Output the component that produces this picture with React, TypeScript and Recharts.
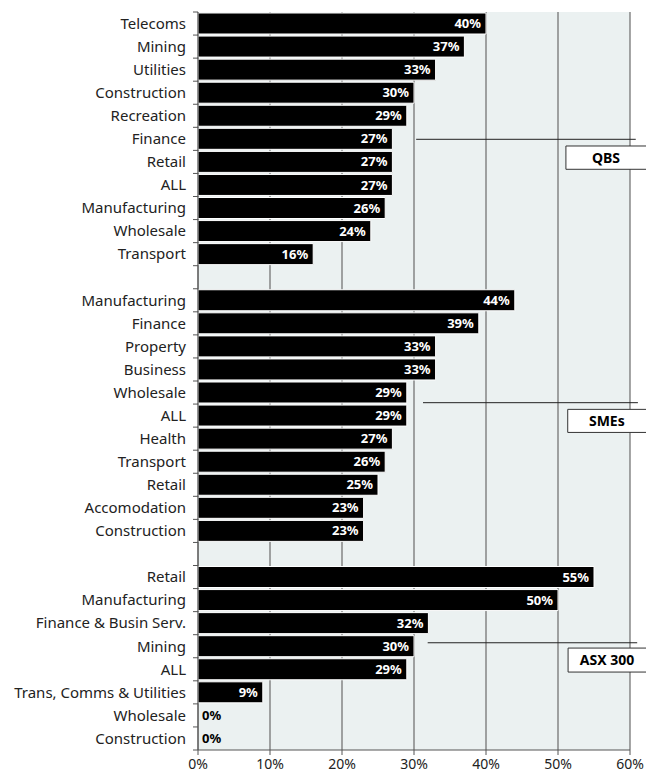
import { Bar, BarChart, CartesianGrid, LabelList, ReferenceArea, ReferenceLine, XAxis, YAxis } from 'recharts'

const qbsCategories = [
  'Telecoms', 'Mining', 'Utilities', 'Construction', 'Recreation', 'Finance',
  'Retail', 'ALL', 'Manufacturing', 'Wholesale', 'Transport',
]
const qbsValues = [40, 37, 33, 30, 29, 27, 27, 27, 26, 24, 16]

const smeCategories = [
  'Manufacturing', 'Finance', 'Property', 'Business', 'Wholesale', 'ALL',
  'Health', 'Transport', 'Retail', 'Accomodation', 'Construction',
]
const smeValues = [44, 39, 33, 33, 29, 29, 27, 26, 25, 23, 23]

const asxCategories = [
  'Retail', 'Manufacturing', 'Finance & Busin Serv.', 'Mining', 'ALL',
  'Trans, Comms & Utilities', 'Wholesale', 'Construction',
]
const asxValues = [55, 50, 32, 30, 29, 9, 0, 0]

const xTicks = [0, 10, 20, 30, 40, 50, 60]

// group tags: rows counted from the top, x in %
const annotations = [
  { label: 'QBS', lineY: 5.52, lineFrom: 30.3, lineTo: 60.8, boxLeft: 51.1, boxTop: 5.81, boxBottom: 6.82 },
  { label: 'SMEs', lineY: 16.94, lineFrom: 31.25, lineTo: 61.1, boxLeft: 51.35, boxTop: 17.23, boxBottom: 18.23 },
  { label: 'ASX 300', lineY: 27.35, lineFrom: 31.9, lineTo: 61, boxLeft: 51.4, boxTop: 27.58, boxBottom: 28.62 },
]

type Row = { id: string; name: string; value: number | null }

const group = (prefix: string, names: string[], values: number[]): Row[] =>
  names.map((name, i) => ({ id: `${prefix}-${i}`, name, value: values[i] }))

const rows: Row[] = [
  ...group('qbs', qbsCategories, qbsValues),
  { id: 'gap-1', name: '', value: null },
  ...group('sme', smeCategories, smeValues),
  { id: 'gap-2', name: '', value: null },
  ...group('asx', asxCategories, asxValues),
]

const FONT = '"Noto Sans", "Open Sans", sans-serif'
const PLOT_TOP = 12
const PLOT_BOTTOM = 750
const AXIS = '#555'

function CategoryTick(props: any) {
  const { x, y, index } = props
  const row = rows[index]
  const band = (PLOT_BOTTOM - PLOT_TOP) / rows.length
  const axisX = x + 12
  return (
    <g>
      <line x1={axisX - 5} x2={axisX} y1={y - band / 2} y2={y - band / 2} stroke={AXIS} />
      {index === rows.length - 1 && (
        <line x1={axisX - 5} x2={axisX} y1={y + band / 2} y2={y + band / 2} stroke={AXIS} />
      )}
      <text x={x} y={y} dy="0.355em" textAnchor="end" fontSize={15} fontFamily={FONT} fill="#222">
        {row ? row.name : ''}
      </text>
      {row && row.value === 0 && (
        <text
          x={axisX + 4}
          y={y}
          dy="0.355em"
          textAnchor="start"
          fill="#000"
          fontSize={13}
          fontWeight={700}
          fontFamily={FONT}
        >
          {row.value}%
        </text>
      )}
    </g>
  )
}

function ValueLabel(props: any) {
  const { x, y, width, height, value } = props
  if (value === null || value === undefined || Number(value) === 0) return null
  return (
    <text
      x={x + width - 5}
      y={y + height / 2}
      dy="0.355em"
      textAnchor="end"
      fill="#fff"
      fontSize={13}
      fontWeight={700}
      fontFamily={FONT}
    >
      {value}%
    </text>
  )
}

function TagLabel(props: any) {
  const { viewBox, value } = props
  const { x, y, height } = viewBox
  return (
    <text
      x={x + (646 - x) / 2}
      y={y + height / 2}
      dy="0.355em"
      textAnchor="middle"
      fontSize={14}
      fontWeight={700}
      fontFamily={FONT}
      fill="#000"
    >
      {value}
    </text>
  )
}

export default function App() {
  return (
    <div style={{ position: 'absolute', left: 0, top: 0 }}>
      <BarChart
        width={646}
        height={780}
        data={rows}
        layout="vertical"
        margin={{ top: PLOT_TOP, right: 16, bottom: 0, left: 0 }}
        barCategoryGap={1}
      >
        <CartesianGrid horizontal={false} stroke="#6b6b6b" strokeWidth={1.2} fill="#ebf1f1" />
        <XAxis
          type="number"
          domain={[0, 60]}
          ticks={xTicks}
          tickFormatter={(v) => `${v}%`}
          axisLine={{ stroke: AXIS }}
          tickLine={{ stroke: AXIS }}
          tickSize={5}
          tickMargin={4}
          height={30}
          tick={{ fontSize: 14, fill: '#222', fontFamily: FONT }}
        />
        <YAxis
          type="category"
          dataKey="id"
          width={198}
          interval={0}
          tick={<CategoryTick />}
          tickLine={false}
          tickSize={5}
          tickMargin={7}
          axisLine={{ stroke: AXIS }}
        />
        <YAxis
          yAxisId="ann"
          type="number"
          dataKey="value"
          domain={[0, rows.length]}
          allowDataOverflow
          hide
        />
        <Bar dataKey="value" fill="#000" stroke="#fff" strokeWidth={1} isAnimationActive={false}>
          <LabelList dataKey="value" content={<ValueLabel />} />
        </Bar>
        {annotations.map((a) => (
          <ReferenceLine
            key={`line-${a.label}`}
            yAxisId="ann"
            segment={[
              { x: a.lineFrom, y: a.lineY },
              { x: a.lineTo, y: a.lineY },
            ]}
            stroke="#222"
            ifOverflow="visible"
          />
        ))}
        {annotations.map((a) => (
          <ReferenceArea
            key={`box-${a.label}`}
            yAxisId="ann"
            x1={a.boxLeft}
            x2={62.5}
            y1={a.boxTop}
            y2={a.boxBottom}
            fill="#fff"
            fillOpacity={1}
            stroke="#333"
            ifOverflow="visible"
            label={<TagLabel value={a.label} />}
          />
        ))}
      </BarChart>
    </div>
  )
}
